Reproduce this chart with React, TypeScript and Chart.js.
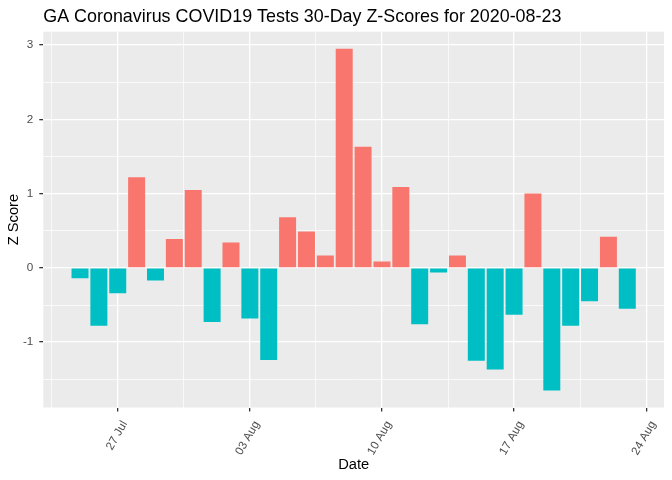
import React, { useEffect, useRef } from "react";
import { Chart, registerables } from "chart.js";

Chart.register(...registerables);

const TITLE = "GA Coronavirus COVID19 Tests 30-Day Z-Scores for 2020-08-23";
const X_TITLE = "Date";
const Y_TITLE = "Z Score";

const dates = [
  "2020-07-25", "2020-07-26", "2020-07-27", "2020-07-28", "2020-07-29", "2020-07-30",
  "2020-07-31", "2020-08-01", "2020-08-02", "2020-08-03", "2020-08-04", "2020-08-05",
  "2020-08-06", "2020-08-07", "2020-08-08", "2020-08-09", "2020-08-10", "2020-08-11",
  "2020-08-12", "2020-08-13", "2020-08-14", "2020-08-15", "2020-08-16", "2020-08-17",
  "2020-08-18", "2020-08-19", "2020-08-20", "2020-08-21", "2020-08-22", "2020-08-23",
];

const zScores = [
  -0.14, -0.78, -0.34, 1.22, -0.17, 0.39,
  1.05, -0.73, 0.34, -0.68, -1.24, 0.68,
  0.49, 0.165, 2.95, 1.63, 0.085, 1.09,
  -0.76, -0.063, 0.165, -1.25, -1.37, -0.63,
  1.0, -1.65, -0.78, -0.45, 0.42, -0.55,
];

const xTickDates = ["2020-07-27", "2020-08-03", "2020-08-10", "2020-08-17", "2020-08-24"];
const xTickLabels = ["27 Jul", "03 Aug", "10 Aug", "17 Aug", "24 Aug"];
const yTickValues = [-1, 0, 1, 2, 3];
const yMinorValues = [-1.5, -0.5, 0.5, 1.5, 2.5];

const POS_COLOR = "#F8766D";
const NEG_COLOR = "#00BFC4";

const DAY = 86400000;
const dayOf = (d: string) => (Date.parse(d) - Date.parse(dates[0])) / DAY;

export default function App() {
  const ref = useRef<HTMLCanvasElement | null>(null);

  useEffect(() => {
    if (!ref.current) return;
    const xs = dates.map(dayOf);
    const barHalf = 0.45;
    const xLo = Math.min(...xs) - barHalf;
    const xHi = Math.max(...xs) + barHalf;
    const xPad = (xHi - xLo) * 0.05;
    const yLo = Math.min(0, ...zScores);
    const yHi = Math.max(0, ...zScores);
    const yPad = (yHi - yLo) * 0.05;

    const xMajor = xTickDates.map(dayOf);
    const xMinor = xMajor.slice(0, -1).map((v) => v + 3.5);
    xMinor.unshift(xMajor[0] - 3.5);
    const xAll = [...xMajor, ...xMinor].sort((a, b) => a - b);
    const yAll = [...yTickValues, ...yMinorValues].sort((a, b) => a - b);

    const font = "'Liberation Sans', Arial, sans-serif";

    const bgPlugin = {
      id: "panelBg",
      beforeDraw(chart: any) {
        const { ctx, chartArea } = chart;
        ctx.save();
        ctx.fillStyle = "#EBEBEB";
        ctx.fillRect(chartArea.left, chartArea.top, chartArea.right - chartArea.left, chartArea.bottom - chartArea.top);
        ctx.restore();
      },
    };
    const titlePlugin = {
      id: "ggTitle",
      afterDraw(chart: any) {
        const { ctx, chartArea } = chart;
        ctx.save();
        ctx.fillStyle = "#000000";
        ctx.font = `17.9px ${font}`;
        ctx.textAlign = "left";
        ctx.textBaseline = "alphabetic";
        ctx.fillText(TITLE, chartArea.left, 22.3);
        ctx.restore();
      },
    };

    const isMajorX = (v: number) => xMajor.some((m) => Math.abs(m - v) < 1e-6);
    const isMajorY = (v: number) => yTickValues.some((m) => Math.abs(m - v) < 1e-6);

    const chart = new Chart(ref.current, {
      type: "bar",
      data: {
        datasets: [
          {
            data: xs.map((x, i) => ({ x, y: zScores[i] })),
            backgroundColor: zScores.map((v) => (v >= 0 ? POS_COLOR : NEG_COLOR)),
            barPercentage: 0.9,
            categoryPercentage: 1.0,
            borderWidth: 0,
          },
        ],
      },
      options: {
        animation: false,
        responsive: false,
        devicePixelRatio: 1,
        layout: { padding: { top: 31.7, right: 8, left: 0, bottom: 0 } },
        plugins: { legend: { display: false }, tooltip: { enabled: false }, title: { display: false } },
        scales: {
          x: {
            type: "linear",
            min: xLo - xPad,
            max: xHi + xPad,
            offset: false,
            bounds: "data",
            border: { display: false },
            afterBuildTicks(scale: any) {
              scale.ticks = xAll.map((v) => ({ value: v }));
            },
            afterFit(scale: any) {
              scale.height = 480 - 407.5;
            },
            grid: {
              offset: false,
              color: "#FFFFFF",
              lineWidth: (c: any) => (isMajorX(c.tick?.value) ? 1.3 : 0.7),
              tickColor: (c: any) => (isMajorX(c.tick?.value) ? "#333333" : "rgba(0,0,0,0)"),
              tickLength: 4,
              drawTicks: true,
            },
            ticks: {
              autoSkip: false,
              minRotation: 60,
              maxRotation: 60,
              padding: 7,
              labelOffset: 7,
              color: "#4D4D4D",
              font: { family: font, size: 11.7 },
              callback: (v: any) => {
                const i = xMajor.findIndex((m) => Math.abs(m - Number(v)) < 1e-6);
                return i >= 0 ? xTickLabels[i] : "";
              },
            },
            title: {
              display: true,
              text: X_TITLE,
              color: "#000000",
              font: { family: font, size: 14.7 },
              padding: { top: 0, bottom: 6.5 },
            },
          },
          y: {
            type: "linear",
            min: yLo - yPad,
            max: yHi + yPad,
            border: { display: false },
            afterBuildTicks(scale: any) {
              scale.ticks = yAll.map((v) => ({ value: v }));
            },
            afterFit(scale: any) {
              scale.width = 43.3;
            },
            grid: {
              offset: false,
              color: "#FFFFFF",
              lineWidth: (c: any) => (isMajorY(c.tick?.value) ? 1.3 : 0.7),
              tickColor: (c: any) => (isMajorY(c.tick?.value) ? "#333333" : "rgba(0,0,0,0)"),
              tickLength: 4,
            },
            ticks: {
              autoSkip: false,
              padding: 6,
              color: "#4D4D4D",
              font: { family: font, size: 11.7 },
              callback: (v: any) => (isMajorY(Number(v)) ? String(Number(v)) : ""),
            },
            title: {
              display: true,
              text: Y_TITLE,
              color: "#000000",
              font: { family: font, size: 14.7 },
              padding: { top: 5.5, bottom: 0 },
            },
          },
        },
      },
      plugins: [bgPlugin, titlePlugin],
    });
    return () => chart.destroy();
  }, []);

  return (
    <div style={{ position: "absolute", left: 0, top: 0, width: 672, height: 480, background: "#FFFFFF" }}>
      <canvas ref={ref} width={672} height={480} style={{ display: "block", width: 672, height: 480 }} />
    </div>
  );
}
